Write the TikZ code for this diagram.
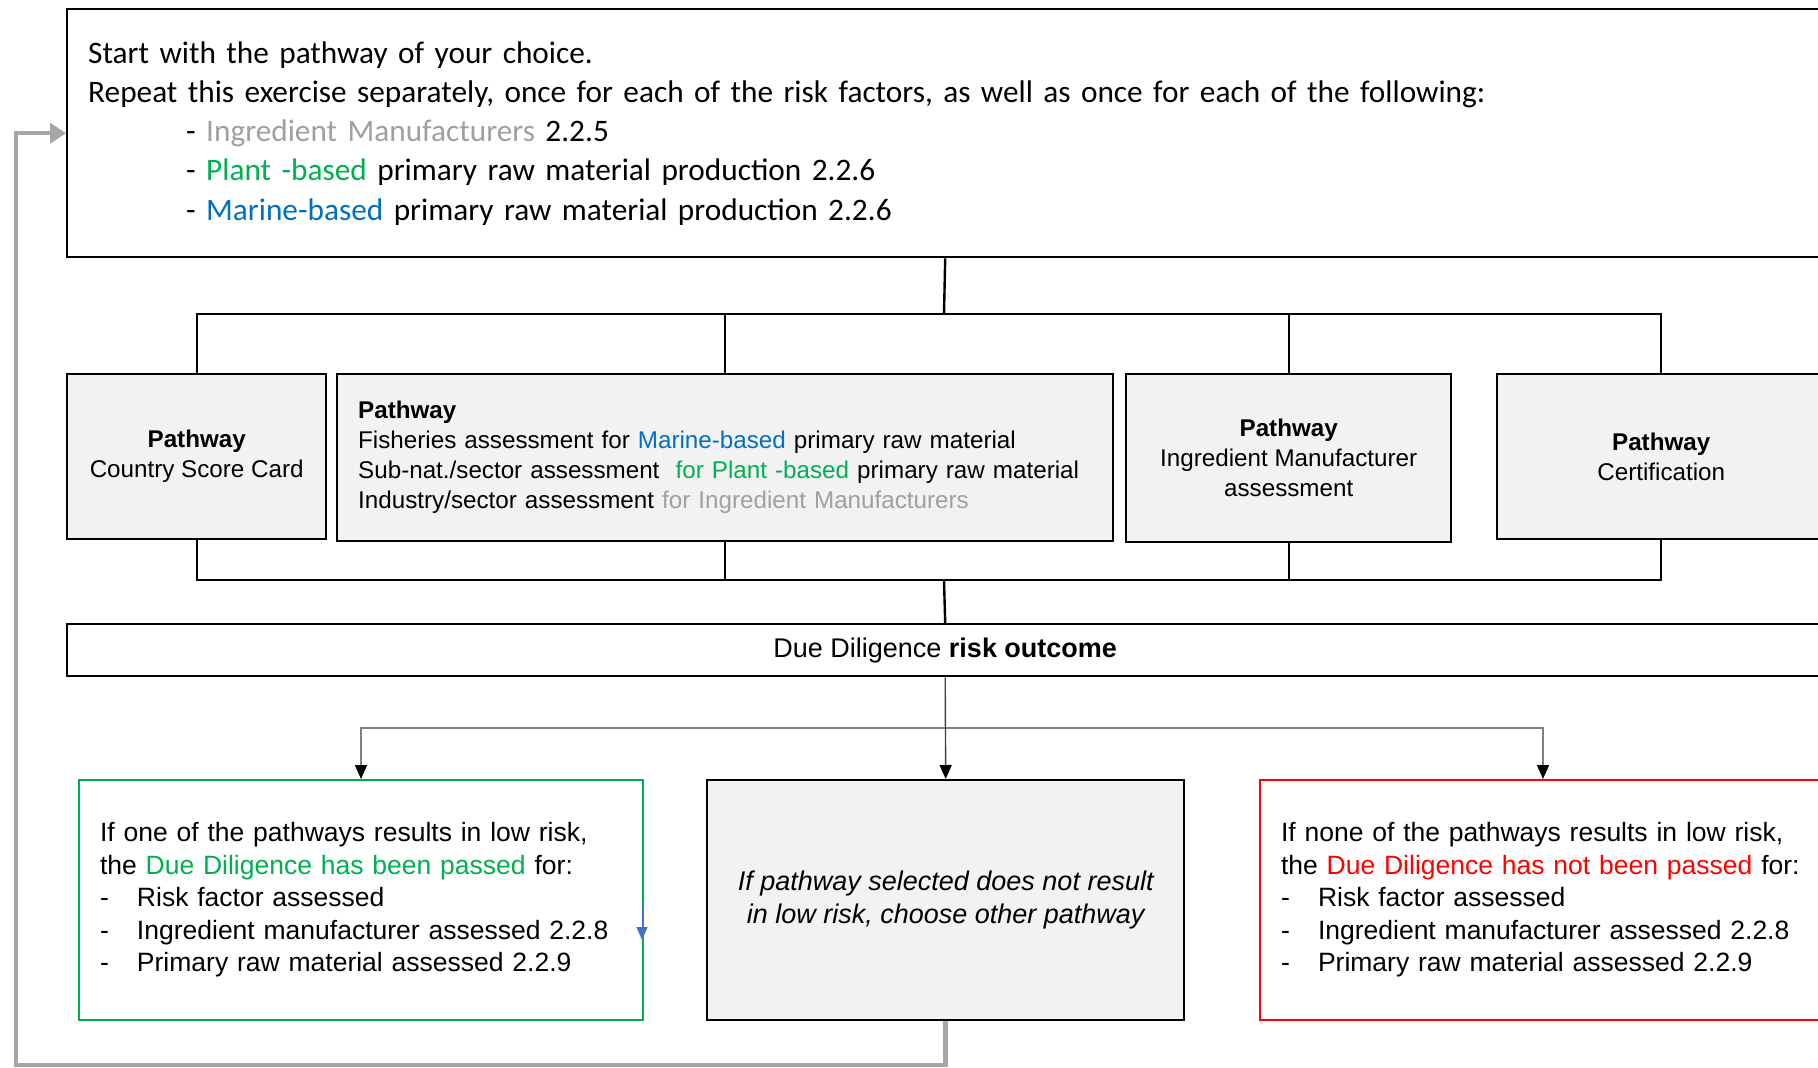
\documentclass[tikz,border=0pt]{standalone}
\usepackage{fontspec}
\setmainfont{Liberation Sans}
\newfontfamily\calibri{Carlito}
\usetikzlibrary{arrows.meta}
\definecolor{boxfill}{HTML}{F2F2F2}
\definecolor{ddgreen}{HTML}{00B050}
\definecolor{ddblue}{HTML}{0070C0}
\definecolor{ddgray}{HTML}{A0A0A0}
\definecolor{ddred}{HTML}{FF0000}
\definecolor{loopgray}{HTML}{A6A6A6}
\definecolor{branchgray}{HTML}{808080}
\definecolor{centergray}{HTML}{404040}
\definecolor{arrowblue}{HTML}{4472C4}
\begin{document}
\begin{tikzpicture}[x=1pt,y=-1pt,
  every node/.style={inner sep=0pt, anchor=north west},
  topbox/.style={draw=black, line width=2.4pt, fill=white, align=left,
    inner xsep=21pt, font=\calibri\fontsize{31.3}{39.25}\selectfont},
  pbox/.style={draw=black, line width=2.4pt, fill=boxfill, align=center,
    font=\fontsize{24.2}{30}\selectfont},
  ddbox/.style={draw=black, line width=2.4pt, fill=white, align=center,
    font=\fontsize{27}{32.5}\selectfont},
  outbox/.style={line width=2pt, fill=white, align=left, inner xsep=21pt,
    font=\fontsize{26.5}{32.5}\selectfont},
  bus/.style={draw=black, line width=2.4pt},
  branch/.style={draw=branchgray, line width=1.6pt, -{Triangle[length=14pt,width=12pt,fill=black,color=black]}},
  centerline/.style={draw=centergray, line width=1.4pt, -{Triangle[length=14pt,width=12pt,fill=black,color=black]}},
  loopline/.style={draw=loopgray, line width=4.5pt, -{Triangle[length=16pt,width=20pt]}},
  blueline/.style={draw=arrowblue, line width=1pt, -{Triangle[length=13pt,width=11pt]}}
]
\useasboundingbox (0,0) rectangle (1818,1068);
\clip (0,0) rectangle (1818,1068);

% top instruction box
\node[topbox, minimum width=1756pt, minimum height=248pt, text width=1714pt] (top) at (66,8) {%
Start with the pathway of your choice.\\
Repeat this exercise separately, once for each of the risk factors, as well as once for each of the following:\\
\hspace*{98pt}- {\color{ddgray}Ingredient Manufacturers} 2.2.5\\
\hspace*{98pt}- {\color{ddgreen}Plant -based} primary raw material production 2.2.6\\
\hspace*{98pt}- {\color{ddblue}Marine-based} primary raw material production 2.2.6};

% pathway boxes
\node[pbox, minimum width=259pt, minimum height=165pt] (p1) at (66,373) {%
\textbf{Pathway}\\Country Score Card};
\node[pbox, align=left, inner xsep=21pt, text width=734pt, minimum height=167pt] (p2) at (336,373) {%
\textbf{Pathway}\\
Fisheries assessment for {\color{ddblue}Marine-based} primary raw material\\
Sub-nat./sector assessment \ {\color{ddgreen}for Plant -based} primary raw material\\
Industry/sector assessment {\color{ddgray}for Ingredient Manufacturers}};
\node[pbox, minimum width=325pt, minimum height=168pt] (p3) at (1125,373) {%
\textbf{Pathway}\\Ingredient Manufacturer\\assessment};
\node[pbox, minimum width=328pt, minimum height=165pt] (p4) at (1496,373) {%
\textbf{Pathway}\\Certification};

% outcome box
\node[ddbox, minimum width=1756pt, minimum height=52pt] (dd) at (66,623) {%
Due Diligence \textbf{risk outcome}};

% result boxes
\node[outbox, draw=ddgreen, text width=522pt, minimum height=240pt] (green) at (78,779) {%
If one of the pathways results in low risk,\\
the {\color{ddgreen}Due Diligence has been passed} for:\\
\makebox[37pt][l]{-}Risk factor assessed\\
\makebox[37pt][l]{-}Ingredient manufacturer assessed 2.2.8\\
\makebox[37pt][l]{-}Primary raw material assessed 2.2.9};
\node[pbox, font=\itshape\fontsize{27}{32.5}\selectfont, minimum width=477pt, minimum height=240pt] (mid) at (706,779) {%
If pathway selected does not result\\in low risk, choose other pathway};
\node[outbox, draw=ddred, text width=524pt, minimum height=240pt] (red) at (1259,779) {%
If none of the pathways results in low risk,\\
\mbox{the {\color{ddred}Due Diligence has not been passed} for:}\\
\makebox[37pt][l]{-}Risk factor assessed\\
\makebox[37pt][l]{-}Ingredient manufacturer assessed 2.2.8\\
\makebox[37pt][l]{-}Primary raw material assessed 2.2.9};

% upper bus
\coordinate (bus1) at (944,314);
\draw[bus] (top.south) -- (bus1);
\draw[bus] (p1.north) |- (bus1) -| (p4.north);
\draw[bus] (p2.north) -- (p2.north |- bus1);
\draw[bus] (p3.north) -- (p3.north |- bus1);

% lower bus
\coordinate (bus2) at (944,580);
\draw[bus] (p1.south) |- (bus2) -| (p4.south);
\draw[bus] (p2.south) -- (p2.south |- bus2);
\draw[bus] (p3.south) -- (p3.south |- bus2);
\draw[bus] (bus2) -- (dd.north);

% outcome branches
\coordinate (split) at (944,728);
\draw[branch] (split) -| (green.north);
\draw[branch] (split) -| (red.north);
\draw[centerline] (dd.south) -- (mid.north);

% loop back
\coordinate (lb) at (16,1065);
\draw[loopline] (mid.south) |- (lb) |- (top.west);

% small blue arrow
\coordinate (b1) at (642,905);
\coordinate (b2) at (642,940);
\draw[blueline] (b1) -- (b2);
\end{tikzpicture}
\end{document}
